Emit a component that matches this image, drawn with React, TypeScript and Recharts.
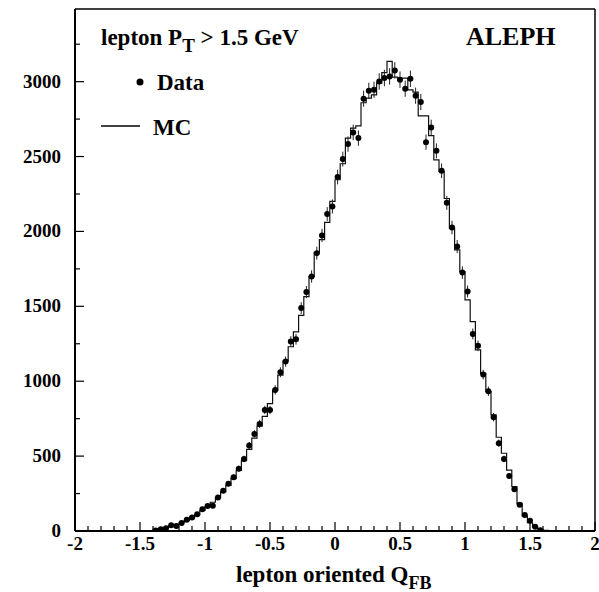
import React from 'react';
import { ComposedChart, Line, Scatter, ErrorBar, XAxis, YAxis, ReferenceLine } from 'recharts';

// histogram binning (bin width read from point spacing)
const BIN_WIDTH = 0.04;
const DATA_FIRST_CENTRE = -1.38;
const MC_FIRST_CENTRE = -1.46;

// Data: entries per bin, from -1.38 to 1.58
const dataCounts = [
  4, 11, 18, 38, 33, 53, 75, 90, 112, 145,
  167, 168, 224, 268, 316, 359, 416, 481, 570, 648,
  715, 808, 808, 942, 1060, 1131, 1265, 1280, 1488, 1595,
  1699, 1855, 1973, 2116, 2167,
  2363, 2483, 2583, 2661, 2623, 2886, 2939, 2946, 3001, 3024,
  3035, 3075, 3013, 2953, 3019, 2906, 2864, 2596, 2694, 2538,
  2405, 2191, 2026, 1899, 1725, 1599, 1316, 1236, 1044, 933,
  760, 586, 481, 367, 279, 175, 107, 69, 29, 5,
];

// statistical errors on the data points
const dataErrors = [
  2, 3, 4, 6, 6, 7, 9, 9, 11, 12,
  13, 13, 15, 16, 18, 19, 20, 22, 24, 25,
  27, 28, 28, 31, 33, 34, 36, 36, 39, 40,
  41, 43, 44, 46, 47,
  49, 50, 51, 52, 51, 54, 54, 54, 55, 55,
  55, 55, 55, 54, 55, 54, 54, 51, 52, 50,
  49, 47, 45, 44, 42, 40, 36, 35, 32, 31,
  28, 24, 22, 19, 17, 13, 10, 8, 5, 2,
];

// MC histogram, from -1.46 to 1.70
const mcCounts = [
  0, 2, 6, 12, 22, 32, 42, 55, 70, 88,
  110, 137, 165, 192, 225, 262, 305, 350, 405, 470,
  545, 620, 700, 765, 850, 940, 1040, 1135, 1230, 1330,
  1440, 1565, 1700, 1860, 1945, 2060, 2200,
  2345, 2452, 2623, 2690, 2705, 2859, 2890, 2912, 2990, 3060,
  3135, 3030, 3024, 3024, 2945, 2930, 2772, 2772, 2640, 2478,
  2400, 2220, 2022, 1877, 1732, 1543, 1398, 1209, 1053, 931,
  775, 626, 519, 407, 296, 185, 100, 55, 25, 9,
  4, 2, 1,
];

const xMajor = [-2, -1.5, -1, -0.5, 0, 0.5, 1, 1.5, 2];
const xMinor = [-1.9, -1.8, -1.7, -1.6, -1.4, -1.3, -1.2, -1.1, -0.9, -0.8, -0.7, -0.6, -0.4, -0.3, -0.2, -0.1,
  0.1, 0.2, 0.3, 0.4, 0.6, 0.7, 0.8, 0.9, 1.1, 1.2, 1.3, 1.4, 1.6, 1.7, 1.8, 1.9];
const yMajor = [0, 500, 1000, 1500, 2000, 2500, 3000];
const yMinor = [250, 750, 1250, 1750, 2250, 2750, 3250];
const Y_MAX = 3485;

const r2 = (v: number) => Math.round(v * 100) / 100;

const dataRows = dataCounts.map((n, i) => ({ x: r2(DATA_FIRST_CENTRE + i * BIN_WIDTH), y: n, err: dataErrors[i] }));
// step line drawn from the left edge of each bin
const mcRows = mcCounts.map((n, i) => ({ x: r2(MC_FIRST_CENTRE - BIN_WIDTH / 2 + i * BIN_WIDTH), mc: n }));
mcRows.push({ x: r2(MC_FIRST_CENTRE - BIN_WIDTH / 2 + mcCounts.length * BIN_WIDTH), mc: 0 });

const xTicks = [...xMajor, ...xMinor].sort((a, b) => a - b);
const yTicks = [...yMajor, ...yMinor].sort((a, b) => a - b);

const FONT = '"Liberation Serif", "Times New Roman", serif';

const XTick = (props: any) => {
  const { x, y, payload } = props;
  const major = xMajor.includes(payload.value);
  return (
    <g>
      <line x1={x} y1={y} x2={x} y2={y - (major ? 9 : 5)} stroke="#000" strokeWidth={1.2} />
      {major && (
        <text x={x} y={y + 19} textAnchor="middle" fontFamily={FONT} fontWeight="bold" fontSize={19} fill="#000">
          {payload.value}
        </text>
      )}
    </g>
  );
};

const YTick = (props: any) => {
  const { x, y, payload } = props;
  const major = yMajor.includes(payload.value);
  return (
    <g>
      <line x1={x} y1={y} x2={x + (major ? 9 : 5)} y2={y} stroke="#000" strokeWidth={1.2} />
      {major && (
        <text x={x - 14} y={y + 6} textAnchor="end" fontFamily={FONT} fontWeight="bold" fontSize={19} fill="#000">
          {payload.value}
        </text>
      )}
    </g>
  );
};

const Dot = (p: any) => <circle cx={p.cx} cy={p.cy} r={3} fill="#000" />;

export default function App() {
  return (
    <div style={{ position: 'absolute', left: 0, top: 0, width: 599, height: 592, background: '#fff' }}>
      <ComposedChart width={599} height={592} margin={{ top: 9, right: 4, bottom: 0, left: 0 }}>
        <XAxis
          type="number"
          dataKey="x"
          domain={[-2, 2]}
          ticks={xTicks}
          interval={0}
          allowDataOverflow
          height={61}
          tickLine={false}
          tickSize={0}
          tickMargin={0}
          tick={<XTick />}
          axisLine={{ stroke: '#000', strokeWidth: 2 }}
        />
        <YAxis
          type="number"
          domain={[0, Y_MAX]}
          ticks={yTicks}
          interval={0}
          allowDataOverflow
          width={75}
          tickLine={false}
          tickSize={0}
          tickMargin={0}
          tick={<YTick />}
          axisLine={{ stroke: '#000', strokeWidth: 2 }}
        />
        <ReferenceLine x={2} stroke="#000" strokeWidth={1.5} ifOverflow="visible" />
        <ReferenceLine y={Y_MAX} stroke="#000" strokeWidth={1.5} ifOverflow="visible" />
        <Line
          data={mcRows}
          dataKey="mc"
          type="stepAfter"
          stroke="#111"
          strokeWidth={1.2}
          dot={false}
          activeDot={false}
          isAnimationActive={false}
        />
        <Scatter data={dataRows} dataKey="y" shape={Dot} isAnimationActive={false}>
          <ErrorBar dataKey="err" direction="y" width={0} stroke="#222" strokeWidth={1} />
        </Scatter>
      </ComposedChart>
      <svg width={599} height={592} style={{ position: 'absolute', left: 0, top: 0, pointerEvents: 'none' }}>
        <g fontFamily={FONT} fontWeight="bold" fill="#000">
          <text x={101} y={45} fontSize={23}>
            lepton P<tspan fontSize={19} dy={7}>T</tspan>
            <tspan dy={-7}> &gt; 1.5 GeV</tspan>
          </text>
          <text x={466} y={45} fontSize={26}>ALEPH</text>
          <circle cx={140} cy={82} r={3.5} fill="#000" />
          <text x={157} y={90} fontSize={23}>Data</text>
          <line x1={101} y1={126} x2={140} y2={126} stroke="#000" strokeWidth={1.5} />
          <text x={153} y={135} fontSize={23}>MC</text>
          <text x={236} y={582} fontSize={23}>
            lepton oriented Q<tspan fontSize={18} dy={7}>FB</tspan>
          </text>
        </g>
      </svg>
    </div>
  );
}
